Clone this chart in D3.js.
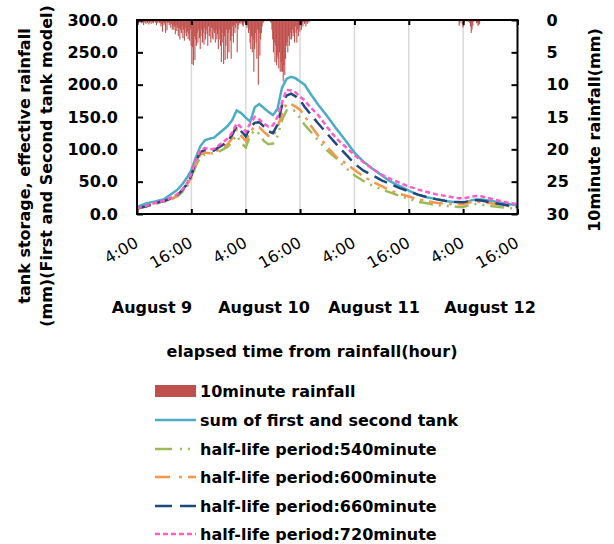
<!DOCTYPE html>
<html><head><meta charset="utf-8">
<script src="https://cdn.jsdelivr.net/npm/d3@7"></script>
<style>
body{margin:0;background:#fff}
svg{display:block}
text{font-family:"DejaVu Sans",sans-serif;fill:#000}
</style>
</head><body>
<svg id="c" width="614" height="544"></svg>
<script>
// ---------- DATA ----------
// elapsed hours from 4:00 August 9
const times = [0,2,4,6,8,9,10,11,12,13,14,15,16,17,18,19,20,21,22,23,24,25,26,27,28,29,30,31,32,33,34,35,36,37,38,40,42,44,46,48,50,52,54,56,58,60,62,64,66,68,70,71,72,73,74,75,76,78,80,82,84];
const sumTank = [11,16.5,19.5,23,33,38,46,56,68,88,105,114,116.5,118,124,130,136,145,160,156,149,143,165,170,164,158,153,162,195,209,212,210,205,200,189,169,151,132,114,95,81,70,60,50,43,36,30,26,23,20,18.5,18,17.5,19,21.5,22.5,22.5,20.5,18,15.5,13];
const half540 = [8,11.5,15.5,19,24,28,34,42,55,75,88,92,93,94,96,100,104,112,122,110,103,122,130,124,113,108,109,120,145,160,162,159,148,138,130,114,98,86,72,60,51,44,38,33,28,23.5,19,16.5,14,12.5,11.5,11,11,13,15,15.5,14.5,12.5,11,9.5,7.5];
const half600 = [8.5,12,16,19.5,25,29,35,44,58,78,92,95,94,95,99,103,108,117,131,121,113,128,135,134,127,121,120,133,155,171,170,166,161,152,140,121,104,88,79,68,58,50,43,36,31,27,23,20,17.5,16,15,15,15,17,19,19,18.5,16.5,14.5,12.5,10];
const half660 = [9,12,16.5,20,26,30,37,46,60,82,96,99,97,98,103,107,113,122,136,128,120,134,141,142,135,128,125,138,168,183,186,182,176,166,157,140,124,108,93,78,67,60,52,46,40,35,30,26,23,20.5,19,18.5,18,19.5,21,21.5,21,18,15.5,13,11];
const half720 = [9,12.5,17,20.5,27,31,38,47,62,84,99,102,100,101,106,111,117,126,140,134,127,140,150,146,140,135,137,150,172,192,191,188,181,176,167,153,134,117,104,91,80,70,61,54,48,42.5,38,34,30.5,28,25.5,24.5,24,25.5,27,28,27.5,24,20.5,17.5,15];

// 10-minute rainfall (mm), first block starts at hour 0, second at hour 71
const rainStart1 = 0;
const rainfall1 = [
 0.3,0.5,0.2,0.4,0.3,0.5, 0.5,0.3,0.8,0.4,0.2,0.6, 0.3,0.5,0.2,0.7,0.4,0.3, 0.6,0.2,0.4,0.5,0,0.3,
 0.4,0.8,0.3,0.5,0.2,0.4, 0.5,1.0,0.6,1.8,0.4,0.8, 0.5,2.0,0.3,1.6,0.5,0.4, 0.8,0.4,1.2,0.6,1.5,0.9,
 1.5,1.0,2.2,0.8,1.7,1.2, 2.5,1.2,3.0,1.5,2.0,1.0, 2.8,1.5,3.2,2.0,1.2,2.5, 1.8,3.0,2.2,3.2,1.5,4.0,
 6.8,4.2,7.0,2.5,6.2,3.0, 4.0,2.0,3.5,1.5,2.8,4.5, 2.5,1.5,3.5,2.0,3.8,1.2, 3.0,1.5,2.2,4.0,1.0,2.5,
 1.8,3.5,1.2,2.8,3.0,1.5, 2.0,3.5,1.5,3.0,2.2,4.5, 1.5,3.0,4.0,6.5,2.0,3.5, 6.8,2.5,6.2,4.0,1.5,6.0,
 2.0,5.0,1.5,3.2,6.0,2.5, 1.0,3.5,0.8,2.0,1.2,0.5, 5.0,1.5,0.8,0.5,0.3,0.6, 0.4,0.8,1.0,0.5,0.3,0.4,
 0.5,1.2,0.8,2.0,1.5,3.5, 4.5,2.5,5.0,3.0,8.0,4.5, 2.0,3.5,6.0,1.5,10.0,2.0, 5.5,3.0,2.0,1.0,0.5,0.3,
 0,0,0,0.2,0,0, 0,0,0.3,0.5,1.5,3.0, 5.0,3.5,6.5,4.0,7.0,5.5, 6.0,7.5,5.0,8.0,6.5,8.0,
 8.0,9.5,7.0,8.5,6.0,4.0, 3.5,5.0,2.5,4.0,3.0,2.0, 3.0,1.5,2.5,2.0,3.5,1.0, 2.0,3.5,1.5,2.5,1.0,1.8,
 0.8,1.5,0.5,1.0,0.3,0.6, 0.5,1.0,0.3,0.6,0.2,0.4
];
const rainStart2 = 71;
const rainfall2 = [
 0.9,0.5,0,0,0.6,1.2, 1.0,0.3,0,0,0.2,0, 0.3,0,0.5,1.0,2.0,1.5, 0.9,0.3,0,0.2,0,0.5, 0.4,0.9,0.8,0.6,0.2,0
];

const xTickValues = [0,12,24,36,48,60,72,84];
const xTickLabels = ["4:00","16:00","4:00","16:00","4:00","16:00","4:00","16:00"];
const leftTicks = [0,50,100,150,200,250,300];
const rightTicks = [0,5,10,15,20,25,30];
const dayLabels = ["August 9","August 10","August 11","August 12"];
const legendNames = ["10minute rainfall","sum of first and second tank","half-life period:540minute","half-life period:600minute","half-life period:660minute","half-life period:720minute"];

// ---------- LAYOUT ----------
const svg = d3.select("#c");
const L = 137, R = 517.5, T = 20, B = 214;
const x = d3.scaleLinear().domain([0,84]).range([L,R]);
const yL = d3.scaleLinear().domain([0,300]).range([B,T]);
const yR = d3.scaleLinear().domain([0,30]).range([T,B]);

const seriesStyles = [
  {data:sumTank, color:"#4BACC6", dash:null, ldash:null},
  {data:half540, color:"#9BBB59", dash:"14,6,2,6,2,6", ldash:"17,8,2,6,2,6"},
  {data:half600, color:"#F79646", dash:"14,6,3,6", ldash:"15,9,3,6"},
  {data:half660, color:"#1F497D", dash:"14,7", ldash:"17,8"},
  {data:half720, color:"#FF5BCB", dash:"5,3", ldash:"5,3"}
];

// gridlines
svg.append("g").selectAll("line").data(xTickValues.slice(1,-1)).join("line")
  .attr("x1",d=>x(d)).attr("x2",d=>x(d)).attr("y1",T).attr("y2",B)
  .attr("stroke","#D9D9D9").attr("stroke-width",1.5);

// rainfall bars
const rainData = rainfall1.map((v,i)=>({t:rainStart1+i/6,v}))
  .concat(rainfall2.map((v,i)=>({t:rainStart2+i/6,v})));
const bw = x(1/6)-x(0);
svg.append("g").selectAll("rect").data(rainData.filter(d=>d.v>0)).join("rect")
  .attr("x",d=>x(d.t)).attr("width",bw+0.35).attr("y",T).attr("height",d=>yR(d.v)-T)
  .attr("fill","#C0504D");

// lines
const line = d3.line().x((d,i)=>x(times[i])).y(d=>yL(d));
seriesStyles.forEach(s=>{
  svg.append("path").datum(s.data).attr("d",line).attr("fill","none")
    .attr("stroke",s.color).attr("stroke-width",2.5)
    .attr("stroke-dasharray",s.dash);
});

// axes
const fontBold = g=>g.selectAll("text").style("font-size","16px").style("font-weight","bold");
const styleTicks = g=>{g.select(".domain").remove(); g.selectAll(".tick line").attr("stroke","#000").attr("stroke-width",2);};

svg.append("g").attr("transform",`translate(${L},0)`)
  .call(d3.axisLeft(yL).tickValues(leftTicks).tickSize(-6).tickSizeOuter(0).tickPadding(19).tickFormat(d3.format(".1f")))
  .call(styleTicks).call(fontBold);

svg.append("g").attr("transform",`translate(${R},0)`)
  .call(d3.axisRight(yR).tickValues(rightTicks).tickSize(-6).tickSizeOuter(0).tickPadding(29))
  .call(styleTicks).call(fontBold);

svg.append("g").attr("transform",`translate(0,${T})`)
  .call(d3.axisTop(x).tickValues(xTickValues).tickSize(-5).tickSizeOuter(0).tickFormat(""))
  .call(styleTicks);

const bx = svg.append("g").attr("transform",`translate(0,${B})`)
  .call(d3.axisBottom(x).tickValues(xTickValues).tickSize(-5).tickSizeOuter(0).tickFormat((d,i)=>xTickLabels[i]))
  .call(styleTicks);
bx.selectAll("text").attr("x",0).attr("y",0).attr("dy",0)
  .attr("text-anchor","end").attr("transform","translate(2,32) rotate(-30)")
  .style("font-size","16px");

// frame
svg.append("rect").attr("x",L).attr("y",T).attr("width",R-L).attr("height",B-T)
  .attr("fill","none").attr("stroke","#000").attr("stroke-width",2);

// day labels
const dayX = [152,264,374,490];
svg.append("g").selectAll("text").data(dayLabels).join("text")
  .attr("x",(d,i)=>dayX[i]).attr("y",313).attr("text-anchor","middle")
  .style("font-size","16px").style("font-weight","bold").text(d=>d);

// axis titles
svg.append("text").attr("x",312).attr("y",357).attr("text-anchor","middle")
  .style("font-size","16px").style("font-weight","bold").text("elapsed time from rainfall(hour)");
svg.append("text").attr("transform","translate(25,166) rotate(-90)").attr("dy","0.3em").attr("text-anchor","middle")
  .style("font-size","16px").style("font-weight","bold").text("tank storage, effective rainfall");
svg.append("text").attr("transform","translate(47,166) rotate(-90)").attr("dy","0.3em").attr("text-anchor","middle")
  .style("font-size","16px").style("font-weight","bold").text("(mm)(First and Second tank model)");
svg.append("text").attr("transform","translate(595,130) rotate(-90)").attr("dy","0.3em").attr("text-anchor","middle")
  .style("font-size","16px").style("font-weight","bold").text("10minute rainfall(mm)");

// legend
const legY = [391,420,449,477,506,534];
const lg = svg.append("g");
lg.append("rect").attr("x",155).attr("y",legY[0]-6).attr("width",41).attr("height",12).attr("fill","#C0504D");
seriesStyles.forEach((s,i)=>{
  lg.append("line").attr("x1",155).attr("x2",196).attr("y1",legY[i+1]).attr("y2",legY[i+1])
    .attr("stroke",s.color).attr("stroke-width",2.5).attr("stroke-dasharray",s.ldash);
});
lg.selectAll("text").data(legendNames).join("text")
  .attr("x",200).attr("y",(d,i)=>legY[i]).attr("dy","0.36em")
  .style("font-size","16px").style("font-weight","bold").text(d=>d);
</script>
</body></html>
